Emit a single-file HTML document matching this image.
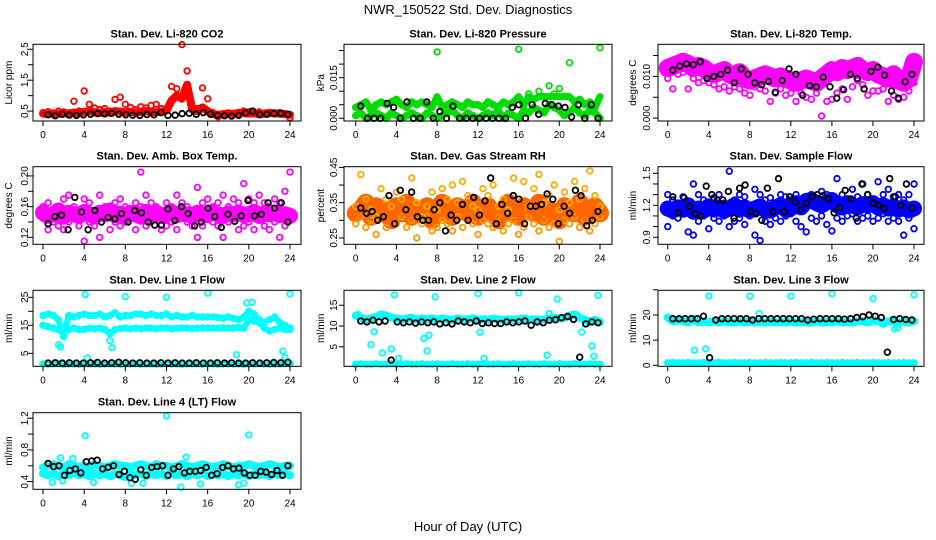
<!DOCTYPE html>
<html><head><meta charset="utf-8"><style>
body{margin:0;background:#fff}
svg{display:block;font-family:"Liberation Sans",sans-serif}
</style></head><body>
<svg id="chart" width="936" height="540" viewBox="0 0 936 540" xmlns="http://www.w3.org/2000/svg">
<text x="468" y="14" text-anchor="middle" font-size="13">NWR_150522  Std. Dev. Diagnostics</text>
<text x="468" y="531" text-anchor="middle" font-size="13">Hour of Day (UTC)</text>
</svg>
<script>
const xTicks=[0,4,8,12,16,20,24];
// CO2
const co2A=[0.45,0.48,0.42,0.5,0.47,0.44,0.82,0.5,1.15,0.72,0.6,0.55,0.58,0.5,0.88,0.95,0.72,0.62,0.55,0.64,0.6,0.68,0.72,0.58,0.55,1.3,1.22,2.65,1.8,0.62,0.58,1.25,0.9,0.45,0.32,0.42,0.44,0.4,0.46,0.5,0.48,0.45,0.47,0.43,0.46,0.44,0.45,0.42,0.28];
const co2B=[0.42,0.4,0.43,0.41,0.44,0.42,0.45,0.43,0.48,0.5,0.46,0.44,0.47,0.45,0.5,0.48,0.46,0.47,0.45,0.48,0.5,0.47,0.46,0.48,0.52,0.85,1.0,0.9,1.35,0.55,0.5,0.62,0.5,0.4,0.38,0.4,0.42,0.41,0.43,0.44,0.42,0.43,0.41,0.42,0.44,0.43,0.42,0.4,0.38];
const co2K=[0.38,0.35,0.4,0.37,0.36,0.38,0.4,0.42,0.41,0.43,0.4,0.38,0.37,0.36,0.39,0.38,0.45,0.36,0.37,0.42,0.43,0.4,0.45,0.4,0.36,0.35,0.34,0.36,0.44,0.5,0.38,0.4,0.42,0.43,0.4];
// Pressure
const prA=[0.004,0.005,0.006,0.003,0.005,0.006,0.005,0.006,0.007,0.005,0.004,0.006,0.005,0.006,0.005,0.004,0.0245,0.004,0.005,0.006,0.005,0.004,0.006,0.005,0.005,0.004,0.006,0.005,0.004,0.006,0.005,0.006,0.0255,0.005,0.009,0.007,0.01,0.008,0.012,0.009,0.011,0.008,0.0205,0.006,0.007,0.005,0.006,0.004,0.026];
const prB=[0.001,0.002,0.0,0.001,0.002,0.001,0.0,0.002,0.001,0.0,0.001,0.002,0.001,0.0,0.002,0.001,0.0,0.001,0.002,0.003,0.001,0.0,0.002,0.001,0.0,0.001,0.002,0.001,0.003,0.0,0.002,0.001,0.0,0.003,0.002,0.004,0.003,0.002,0.005,0.004,0.003,0.001,0.002,0.004,0.002,0.001,0.003,0.002,0.0];
const prK=[0.0045,0.0,0.0,0.0,0.0055,0.004,0.0,0.006,0.0,0.0,0.006,0.0,0.0025,0.0,0.0045,0.0,0.0,0.0,0.0,0.0,0.0,0.0,0.0,0.004,0.005,0.0,0.005,0.0015,0.0055,0.005,0.0045,0.004,0.0005,0.005,0.0,0.005,0.0];
// Li-820 temp
const tmA=[0.012,0.0125,0.013,0.0135,0.013,0.012,0.0125,0.012,0.011,0.0105,0.011,0.0115,0.0105,0.01,0.011,0.0095,0.009,0.0095,0.01,0.0105,0.01,0.0095,0.01,0.0095,0.009,0.0085,0.009,0.0095,0.009,0.0085,0.0095,0.0105,0.0115,0.011,0.012,0.0115,0.012,0.0125,0.0115,0.011,0.0115,0.0105,0.01,0.0095,0.0105,0.009,0.0085,0.0095,0.0135];
const tmB=[0.0095,0.007,0.0105,0.011,0.007,0.0095,0.0085,0.009,0.0085,0.008,0.007,0.0075,0.0065,0.0075,0.007,0.006,0.0055,0.0075,0.007,0.0065,0.004,0.006,0.007,0.0055,0.006,0.004,0.006,0.005,0.0045,0.006,0.0005,0.004,0.0045,0.006,0.007,0.0045,0.0075,0.009,0.008,0.0055,0.0065,0.0065,0.007,0.004,0.0055,0.0045,0.005,0.0065,0.0085];
const tmK=[0.0115,0.0125,0.013,0.0128,0.0135,0.0095,0.01,0.0105,0.0115,0.0085,0.0118,0.0105,0.0085,0.008,0.0088,0.0062,0.009,0.0118,0.0105,0.0055,0.0078,0.0075,0.0098,0.0075,0.0048,0.0068,0.0105,0.0095,0.007,0.0112,0.0122,0.0103,0.0065,0.0048,0.0087,0.0105];
// Amb box temp
const bxA=[0.16,0.165,0.155,0.15,0.17,0.175,0.16,0.155,0.17,0.165,0.15,0.175,0.16,0.155,0.165,0.17,0.16,0.155,0.165,0.16,0.175,0.165,0.16,0.155,0.165,0.16,0.175,0.165,0.16,0.155,0.185,0.165,0.17,0.16,0.165,0.175,0.16,0.17,0.165,0.19,0.17,0.165,0.175,0.165,0.16,0.17,0.165,0.18,0.205];
const bxB=[0.145,0.13,0.14,0.135,0.13,0.14,0.145,0.135,0.115,0.14,0.135,0.12,0.145,0.13,0.14,0.135,0.14,0.145,0.13,0.205,0.135,0.14,0.145,0.13,0.135,0.14,0.13,0.145,0.14,0.135,0.12,0.135,0.145,0.14,0.135,0.12,0.14,0.145,0.13,0.135,0.14,0.13,0.145,0.135,0.13,0.14,0.12,0.135,0.145];
const bxC=[0.152,0.148,0.15,0.155,0.147,0.152,0.15,0.148,0.153,0.15,0.147,0.152,0.15,0.155,0.149,0.151,0.148,0.152,0.15,0.147,0.153,0.15,0.152,0.148,0.15,0.153,0.149,0.151,0.15,0.148,0.152,0.15,0.149,0.153,0.15,0.148,0.151,0.15,0.152,0.149,0.15,0.153,0.148,0.151,0.15,0.152,0.149,0.15,0.148];
const bxK=[0.138,0.147,0.149,0.13,0.172,0.153,0.13,0.155,0.14,0.146,0.144,0.151,0.14,0.155,0.152,0.14,0.136,0.136,0.157,0.142,0.16,0.151,0.135,0.14,0.158,0.147,0.133,0.15,0.141,0.148,0.168,0.148,0.15,0.165,0.158,0.165,0.14];
// Gas stream RH
const rhA=[0.34,0.43,0.36,0.33,0.31,0.39,0.36,0.34,0.38,0.36,0.33,0.42,0.35,0.31,0.34,0.38,0.33,0.39,0.36,0.4,0.35,0.41,0.37,0.34,0.33,0.39,0.37,0.4,0.34,0.36,0.33,0.42,0.36,0.41,0.34,0.39,0.43,0.35,0.37,0.4,0.33,0.38,0.35,0.41,0.36,0.39,0.44,0.37,0.34];
const rhB=[0.29,0.31,0.28,0.3,0.26,0.32,0.28,0.3,0.29,0.31,0.28,0.3,0.25,0.29,0.31,0.27,0.28,0.3,0.29,0.27,0.31,0.28,0.3,0.29,0.26,0.3,0.29,0.28,0.31,0.27,0.29,0.3,0.26,0.28,0.31,0.29,0.27,0.3,0.28,0.29,0.24,0.3,0.29,0.31,0.28,0.3,0.27,0.29,0.31];
const rhC=[0.32,0.33,0.35,0.31,0.34,0.32,0.33,0.3,0.34,0.32,0.35,0.31,0.33,0.32,0.34,0.3,0.33,0.35,0.32,0.31,0.34,0.33,0.32,0.35,0.31,0.33,0.34,0.32,0.3,0.33,0.35,0.32,0.31,0.34,0.33,0.32,0.35,0.31,0.33,0.32,0.3,0.34,0.33,0.32,0.35,0.31,0.33,0.34,0.32];
const rhK=[0.335,0.32,0.325,0.3,0.31,0.37,0.29,0.385,0.33,0.38,0.31,0.3,0.3,0.33,0.35,0.27,0.315,0.3,0.345,0.3,0.365,0.315,0.355,0.42,0.29,0.345,0.32,0.37,0.36,0.29,0.34,0.34,0.345,0.375,0.36,0.29,0.34,0.32,0.385,0.37,0.285,0.3,0.325];
// Sample flow
const flA=[1.3,1.25,1.2,1.28,1.22,1.4,1.3,1.25,1.2,1.27,1.3,1.22,1.52,1.25,1.3,1.28,1.2,1.35,1.3,1.25,1.27,1.2,1.3,1.28,1.25,1.3,1.22,1.28,1.3,1.25,1.33,1.3,1.28,1.45,1.3,1.25,1.35,1.28,1.4,1.3,1.25,1.42,1.3,1.35,1.28,1.3,1.25,1.3,1.4];
const flB=[1.0,1.1,1.08,1.12,0.95,0.92,1.05,1.1,0.98,1.08,1.05,1.1,1.0,1.05,1.08,1.02,1.1,0.92,0.87,1.05,1.02,1.08,1.05,1.1,1.12,1.05,1.0,0.95,1.08,1.05,1.1,1.02,0.96,1.08,1.05,1.1,1.12,1.05,1.08,1.1,1.05,1.08,1.12,1.05,1.08,1.05,0.92,1.08,0.98];
const flC=[1.17,1.15,1.18,1.16,1.2,1.14,1.17,1.15,1.19,1.16,1.18,1.15,1.17,1.2,1.16,1.18,1.15,1.17,1.19,1.16,1.15,1.18,1.2,1.16,1.17,1.22,1.18,1.24,1.25,1.22,1.2,1.23,1.25,1.2,1.18,1.22,1.2,1.18,1.21,1.2,1.22,1.18,1.2,1.17,1.19,1.16,1.18,1.15,1.17];
const flK=[1.28,1.13,1.27,1.19,1.12,1.1,1.38,1.3,1.25,1.25,1.33,1.08,1.36,1.39,1.14,1.12,1.06,1.36,1.14,1.45,1.14,1.28,1.23,1.16,1.22,1.28,1.3,1.29,1.26,1.13,1.18,1.34,1.26,1.08,1.4,1.3,1.22,1.2,1.17,1.45,1.28,1.2,1.4,1.17];
// Line 1
const l1A=[18.5,19,18.5,17,11,18.5,18,18.5,19,18.5,18.5,19,18,18.5,19.5,18,18.5,18.5,19,19,18.5,19,18.5,18.5,19,18,18.5,18,18,18.5,18,18,18,18,17.8,17.5,18,17.5,17,18,20,19,17,16,17,18,16,15,14];
const l1B=[15,14.5,14,13.5,12,13.5,14,13.5,13.5,14,13.8,14,13.5,12,13.5,13.8,14,13.8,14,13.8,14,14,13.8,14,14,13.8,14,14,14,13.8,14,14,14,14,14,14,14,14,14.2,14,17,16.5,16,14,13,13.5,14,13.5,13.5];
const l1C=[1.2,1.1,1.2,1.3,1.1,1.2,1.2,1.1,1.3,1.2,1.2,1.1,1.2,1.3,1.2,1.1,1.2,1.2,1.3,1.1,1.2,1.2,1.1,1.2,1.3,1.2,1.2,1.1,1.2,1.2,1.3,1.1,1.2,1.2,1.1,1.2,1.3,1.2,1.2,1.1,1.2,1.2,1.3,1.2,1.1,1.2,1.2,1.3,1.2];
const l1Out=[[4.1,26],[8,25.2],[12,25],[16,26.5],[19.8,23],[20.3,23.2],[24,26.2],[1.5,8],[1.7,7.3],[4.3,3.3],[6.5,9.5],[6.7,7],[18.8,4.5],[23.3,5.8],[23.5,3.5]];
const l1K=[1.5,1.6,1.5,1.6,1.5,1.5,1.6,1.7,1.5,1.6,1.8,1.6,1.5,1.6,1.5,1.5,1.6,1.5,1.6,1.5,1.5,1.6,1.5,1.5,1.6,1.5,1.6,1.5,1.5,1.6,1.5,1.6,1.7,1.6,1.8];
// Line 2
const l2A=[12.5,12,11.5,11.8,12.2,12.8,12.5,12,11.8,11.5,11.8,12,11.5,11.8,11.5,11.8,11.5,11.8,11.6,11.5,11.8,11.5,11.6,11.8,11.5,11.6,11.5,11.8,11.5,11.5,11.6,11.5,11.6,11.8,11.5,11.6,11.5,11.6,11.8,12,11.8,12,12.5,12.8,12,11.5,11,11.5,11];
const l2B=[0.8,0.9,0.8,0.8,0.9,0.8,0.8,0.9,0.8,0.8,0.9,0.8,0.8,0.9,0.8,0.8,0.9,0.8,0.8,0.9,0.8,0.8,0.9,0.8,0.8,0.9,0.8,0.8,0.9,0.8,0.8,0.9,0.8,0.8,0.9,0.8,0.8,0.9,0.8,0.8,0.9,0.8,0.8,0.9,0.8,0.8,0.9,0.8,0.8];
const l2Out=[[0.2,12.8],[1.5,5.5],[1.8,8.6],[2.6,3.5],[3.8,17.5],[4.2,2.2],[3.5,4.5],[6.7,7],[7,4],[7.2,7.8],[7.8,17],[12,17.8],[12.2,8.5],[12.6,2.2],[16,18],[18.8,3],[19,13],[19.8,16.5],[22.2,8.5],[23.2,5.2],[23.4,2.7],[23.8,17.4]];
const l2K=[11.2,11,11.4,11,11.2,1.8,11,10.8,11,10.7,11,10.8,11,10.5,10.8,10.5,11.2,11,10.8,11.2,10.6,10.8,10.6,10.6,11,10.8,11,11.2,10.2,11,10.8,11.4,11.5,12,12.3,11.6,2.5,10.5,11,10.8];
// Line 3
const l3A=[19,17.5,18,17.5,17,18.5,17,17.5,17,17.5,17,17.5,17,17,17.5,17,17.5,17,17.2,17,17.5,17,17.2,17,17.5,17,17.2,17,17,17.5,17,17.2,17,17.5,17,17.2,17,17.5,17.5,17,18,17.5,16.5,17.5,17.5,17,17.5,17,17.5];
const l3B=[1,1.1,1,1,1.1,1,1,1.1,1,1,1.1,1,1,1.1,1,1,1.1,1,1,1.1,1,1,1.1,1,1,1.1,1,1,1.1,1,1,1.1,1,1,1.1,1,1,1.1,1,1,1.1,1,1,1.1,1,1,1.1,1,1];
const l3Out=[[4,27.5],[8,27.5],[12,27.5],[16,28.5],[20,26.5],[24,28],[2.6,6],[3.7,6.5],[8.9,20.5],[22.1,14.5],[22.4,14.8]];
const l3K=[18.5,18.5,18.5,18.5,18.5,19.5,3,18,18.5,18.5,18.5,18.5,18.5,18,18.5,18.5,18.5,18.5,18.5,18.5,18.5,18.5,18,18.3,18.5,18.5,18.5,18.5,18.3,18.5,19,19.3,20,19.5,19,5.2,18.2,18.5,18.2,18];
// Line 4
const l4A=[0.58,0.6,0.62,0.6,0.58,0.62,0.6,0.58,0.6,0.58,0.62,0.6,0.58,0.6,0.62,0.6,0.6,0.58,0.6,0.62,0.6,0.58,0.62,0.6,0.6,0.58,0.6,0.62,0.6,0.58,0.6,0.62,0.6,0.58,0.6,0.62,0.6,0.58,0.6,0.6,0.62,0.6,0.58,0.6,0.62,0.6,0.58,0.6,0.6];
const l4B=[0.5,0.48,0.5,0.47,0.5,0.48,0.52,0.48,0.5,0.47,0.5,0.48,0.5,0.47,0.5,0.48,0.46,0.5,0.48,0.5,0.47,0.5,0.48,0.5,0.47,0.5,0.48,0.5,0.47,0.5,0.48,0.5,0.47,0.5,0.48,0.5,0.47,0.5,0.48,0.5,0.47,0.5,0.48,0.5,0.47,0.5,0.48,0.5,0.48];
const l4Out=[[4.1,0.98],[12,1.23],[20,0.99],[13.4,0.33],[19,0.36],[1.7,0.7],[2.9,0.69],[13.9,0.71],[0.9,0.39],[1.9,0.41],[4.9,0.39],[8.6,0.38],[9.7,0.38],[15.3,0.37],[19.5,0.38]];
const l4K=[0.63,0.59,0.6,0.48,0.54,0.56,0.51,0.65,0.66,0.67,0.56,0.58,0.6,0.49,0.53,0.45,0.43,0.55,0.48,0.58,0.59,0.6,0.48,0.56,0.59,0.51,0.53,0.53,0.54,0.58,0.48,0.5,0.58,0.6,0.56,0.57,0.51,0.48,0.48,0.53,0.52,0.49,0.54,0.48,0.6];
// Y ticks (values + labels)
const yt1=[0.5,1,1.5,2,2.5], yl1=["0.5","","1.5","","2.5"];
const yt2=[0,0.005,0.01,0.015,0.02,0.025], yl2=["0.000","","","0.015","",""];
const yt3=[0,0.005,0.01,0.015], yl3=["0.000","","0.010",""];
const yt4=[0.12,0.14,0.16,0.18,0.2], yl4=["0.12","","0.16","","0.20"];
const yt5=[0.25,0.3,0.35,0.4,0.45], yl5=["0.25","","0.35","","0.45"];
const yt6=[0.9,1.0,1.1,1.2,1.3,1.4,1.5], yl6=["0.9","","","1.2","","","1.5"];
const yt7=[5,10,15,20,25], yl7=["5","","15","","25"];
const yt8=[5,10,15], yl8=["5","10","15"];
const yt9=[0,10,20,30], yl9=["0","10","20",""];
const yt10=[0.4,0.6,0.8,1.0,1.2], yl10=["0.4","","0.8","","1.2"];

const COLX=[{l:33,r:301,x0:43,x24:290,tl:24,yl:8},{l:344,r:612,x0:355.7,x24:600,tl:333,yl:320},{l:658,r:924,x0:667.7,x24:914,tl:646,yl:632}];
const ROWY=[{t:44.3,b:121},{t:166.7,b:244.3},{t:290.3,b:366.3},{t:412.7,b:489.3}];
// band: [seriesIndex, strokeWidth, capValue] — dense cloud rendering for the series
const panels=[
 {name:"co2",title:"Stan. Dev. Li-820 CO2",ylab:"Licor ppm",c:0,r:0,dom:[0.18,2.66],yt:yt1,yl:yl1,ser:[[co2B,"#ff0000"],[co2A,"#ff0000"]],band:[[0,8,1.4]],out:null,oc:"#ff0000",k:co2K},
 {name:"pressure",title:"Stan. Dev. Li-820 Pressure",ylab:"kPa",c:1,r:0,dom:[-0.001,0.0273],yt:yt2,yl:yl2,ser:[[prB,"#00dd00"],[prA,"#00dd00"]],band:[[0,7,1],[1,7,0.008]],out:null,oc:"#00dd00",k:prK},
 {name:"li820-temp",title:"Stan. Dev. Li-820 Temp.",ylab:"degrees C",c:2,r:0,dom:[-0.0007,0.0177],yt:yt3,yl:yl3,ser:[[tmB,"#ff00ff"],[tmA,"#ff00ff"]],band:[[1,18,1]],out:null,oc:"#ff00ff",k:tmK},
 {name:"amb-box-temp",title:"Stan. Dev. Amb. Box Temp.",ylab:"degrees C",c:0,r:1,dom:[0.111,0.212],yt:yt4,yl:yl4,ser:[[bxB,"#ff00ff"],[bxC,"#ff00ff"],[bxA,"#ff00ff"]],band:[[1,16,1]],out:null,oc:"#ff00ff",k:bxK},
 {name:"gas-stream-rh",title:"Stan. Dev. Gas Stream RH",ylab:"percent",c:1,r:1,dom:[0.232,0.452],yt:yt5,yl:yl5,ser:[[rhB,"#ff9900"],[rhC,"#ff6600"],[rhA,"#ffaa00"]],band:[[1,18,1]],out:null,oc:"#ff9900",k:rhK},
 {name:"sample-flow",title:"Stan. Dev. Sample Flow",ylab:"ml/min",c:2,r:1,dom:[0.834,1.562],yt:yt6,yl:yl6,ser:[[flB,"#0000ff"],[flC,"#0000ff"],[flA,"#0000ff"]],band:[[1,16,9]],out:null,oc:"#0000ff",k:flK},
 {name:"line1-flow",title:"Stan. Dev. Line 1 Flow",ylab:"ml/min",c:0,r:2,dom:[0.36,27.5],yt:yt7,yl:yl7,ser:[[l1C,"#00ffff"],[l1B,"#00ffff"],[l1A,"#00ffff"]],band:[[0,5,99],[1,6,99],[2,6,99]],out:l1Out,oc:"#00ffff",k:l1K},
 {name:"line2-flow",title:"Stan. Dev. Line 2 Flow",ylab:"ml/min",c:1,r:2,dom:[0.3,18.6],yt:yt8,yl:yl8,ser:[[l2B,"#00ffff"],[l2A,"#00ffff"]],band:[[0,5,99],[1,8,99]],out:l2Out,oc:"#00ffff",k:l2K},
 {name:"line3-flow",title:"Stan. Dev. Line 3 Flow",ylab:"ml/min",c:2,r:2,dom:[-0.4,29.8],yt:yt9,yl:yl9,ser:[[l3B,"#00ffff"],[l3A,"#00ffff"]],band:[[0,5,99],[1,8,99]],out:l3Out,oc:"#00ffff",k:l3K},
 {name:"line4-flow",title:"Stan. Dev. Line 4 (LT) Flow",ylab:"ml/min",c:0,r:3,dom:[0.303,1.27],yt:yt10,yl:yl10,ser:[[l4B,"#00ffff"],[l4A,"#00ffff"]],band:[[0,8,9],[1,8,9]],out:l4Out,oc:"#00ffff",k:l4K}
];
const NS="http://www.w3.org/2000/svg";
const svg=document.getElementById('chart');
function mk(tag,attrs,parent){const e=document.createElementNS(NS,tag);for(const k in attrs)e.setAttribute(k,attrs[k]);(parent||svg).appendChild(e);return e;}
panels.forEach(p=>{
 const C=COLX[p.c],R=ROWY[p.r];
 const g=mk('g',{});
 
 
 const xs=h=>C.x0+(C.x24-C.x0)*h/24;
 const ys=v=>R.b-(v-p.dom[0])/(p.dom[1]-p.dom[0])*(R.b-R.t);
 p.band.forEach(([si,w,cap])=>{
  const [arr,col]=p.ser[si];
  const pts=arr.map((v,i)=>xs(i*24/(arr.length-1)).toFixed(1)+','+ys(Math.min(v,cap)).toFixed(1)).join(' ');
  const pl=mk('polyline',{points:pts,fill:'none',stroke:col,'stroke-width':w,'stroke-linejoin':'round','stroke-linecap':'round'},g);
  
  
 });
 const pt=(h,v,col,name)=>{const c=mk('circle',{cx:xs(h).toFixed(1),cy:ys(v).toFixed(1),r:2.8,fill:'none',stroke:col,'stroke-width':1.8},g);
  
  };
 p.ser.forEach(([arr,col])=>arr.forEach((v,i)=>pt(i*24/(arr.length-1),v,col,p.name+'-point')));
 if(p.out)p.out.forEach(([h,v])=>pt(h,v,p.oc,p.name+'-outlier'));
 p.k.forEach((v,i)=>pt(0.5+i*23.3/(p.k.length-1),v,'#000',p.name+'-ref-point'));
 const box=mk('rect',{x:C.l,y:R.t,width:C.r-C.l,height:R.b-R.t,fill:'none',stroke:'#000','stroke-width':1},g);
 
 
 const t=mk('text',{x:(C.l+C.r)/2,y:R.t-7,'text-anchor':'middle','font-size':11,'font-weight':'bold'},g);t.textContent=p.title;
 
 
 const yl=mk('text',{x:C.yl+4,y:(R.t+R.b)/2,'text-anchor':'middle','font-size':10,transform:`rotate(-90 ${C.yl+4} ${(R.t+R.b)/2})`},g);yl.textContent=p.ylab;
 
 
 xTicks.forEach(h=>{const x=xs(h);mk('line',{x1:x,x2:x,y1:R.b,y2:R.b+5,stroke:'#000'},g);
  const tx=mk('text',{x:x,y:R.b+17,'text-anchor':'middle','font-size':10},g);tx.textContent=h;
  
  });
 p.yt.forEach((v,i)=>{const y=ys(v);mk('line',{x1:C.l-5,x2:C.l,y1:y,y2:y,stroke:'#000'},g);
  if(p.yl[i]){const tx=mk('text',{x:C.tl+4,y:y,'text-anchor':'middle','font-size':10,transform:`rotate(-90 ${C.tl+4} ${y})`},g);tx.textContent=p.yl[i];
  
  }});
});
</script>
</body></html>
